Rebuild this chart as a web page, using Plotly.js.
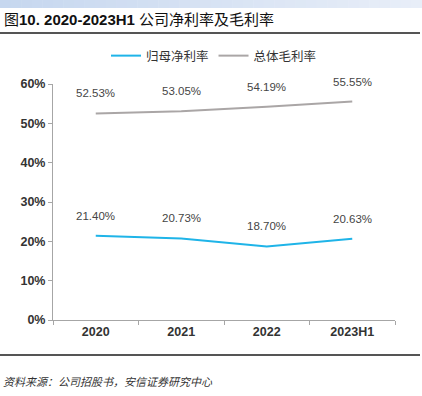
<!DOCTYPE html>
<html>
<head>
<meta charset="utf-8">
<script src="https://cdn.plot.ly/plotly-3.0.1.min.js"></script>
<style>html,body{margin:0;padding:0;background:#fff;}#chart{width:422px;height:396px;}</style>
</head>
<body>
<div id="chart"></div>
<script>
const categories = ['2020', '2021', '2022', '2023H1'];
const netMargin = [0.2140, 0.2073, 0.1870, 0.2063];
const grossMargin = [0.5253, 0.5305, 0.5419, 0.5555];
const yTickVals = [0, 0.1, 0.2, 0.3, 0.4, 0.5, 0.6];
const yTickText = ['0%', '10%', '20%', '30%', '40%', '50%', '60%'];
const seriesNames = ['归母净利率', '总体毛利率'];
const sourceText = '资料来源：公司招股书，安信证券研究中心';

const blue = '#1fb4e8';
const gray = '#aaa6a6';
const labelFont = {family: 'Liberation Sans, Arial, sans-serif', size: 11.5, color: '#454545'};

const traces = [
  {x: categories, y: netMargin, name: seriesNames[0], type: 'scatter', mode: 'lines',
   line: {color: blue, width: 2}, hoverinfo: 'skip'},
  {x: categories, y: grossMargin, name: seriesNames[1], type: 'scatter', mode: 'lines',
   line: {color: gray, width: 2}, hoverinfo: 'skip'}
];

const W = 422, H = 396, ml = 53, mr = 27, mt = 84, mb = 76;
const pw = W - ml - mr, ph = H - mt - mb;
function px2x(px) { return (px - ml) / pw; }
function py2y(py) { return (H - mb - py) / ph; }

const annotations = [];
[netMargin, grossMargin].forEach(arr => {
  arr.forEach((v, i) => {
    annotations.push({x: i, y: v, xref: 'x', yref: 'y',
      text: (v * 100).toFixed(2) + '%', showarrow: false, yshift: 20,
      font: labelFont});
  });
});
annotations.push({xref: 'paper', yref: 'paper', x: px2x(2), y: py2y(19), xanchor: 'left', yanchor: 'middle',
  text: '图<b>10. 2020-2023H1</b> 公司净利率及毛利率', showarrow: false,
  font: {family: 'Liberation Sans, Noto Sans CJK SC, sans-serif', size: 15, color: '#111'}});
annotations.push({xref: 'paper', yref: 'paper', x: px2x(1), y: py2y(381), xanchor: 'left', yanchor: 'middle',
  text: '<i>' + sourceText + '</i>', showarrow: false,
  font: {family: 'Noto Sans CJK SC, sans-serif', size: 11, color: '#333'}});

const shapes = [];
const nSeg = 40;
const c0 = [198, 215, 239], c1 = [232, 238, 248];
for (let i = 0; i < nSeg; i++) {
  const t = i / (nSeg - 1);
  const c = c0.map((v, k) => Math.round(v + (c1[k] - v) * t));
  shapes.push({type: 'rect', xref: 'paper', yref: 'paper',
    x0: px2x(i * W / nSeg), x1: px2x((i + 1) * W / nSeg + 0.5),
    y0: py2y(8), y1: py2y(0), fillcolor: 'rgb(' + c.join(',') + ')', line: {width: 0}, layer: 'below'});
}
shapes.push({type: 'line', xref: 'paper', yref: 'paper', x0: px2x(0), x1: px2x(420),
  y0: py2y(33), y1: py2y(33), line: {color: '#555', width: 2}});
shapes.push({type: 'line', xref: 'paper', yref: 'paper', x0: px2x(0), x1: px2x(420),
  y0: py2y(355), y1: py2y(355), line: {color: '#555', width: 2}});

const layout = {
  width: W, height: H,
  margin: {l: ml, r: mr, t: mt, b: mb, pad: 0},
  paper_bgcolor: '#fff', plot_bgcolor: '#fff',
  showlegend: true,
  legend: {orientation: 'h', x: px2x(214), xanchor: 'center', y: py2y(56), yanchor: 'middle',
    font: {family: 'Noto Sans CJK SC, sans-serif', size: 12.5, color: '#333'},
    itemwidth: 30, tracegroupgap: 0},
  xaxis: {type: 'category', range: [-0.5, 3.5], showline: true, linecolor: '#a6a6a6', linewidth: 1,
    ticks: 'outside', tickson: 'boundaries', ticklen: 4, tickcolor: '#a6a6a6', showgrid: false,
    zeroline: false, fixedrange: true,
    tickfont: {family: 'Liberation Sans, Arial, sans-serif', size: 12.5, color: '#333', weight: 'bold'}},
  yaxis: {range: [0, 0.6], tickvals: yTickVals, ticktext: yTickText, showline: true, linecolor: '#a6a6a6',
    linewidth: 1, ticks: 'outside', ticklen: 4, tickcolor: '#a6a6a6', showgrid: false, zeroline: false,
    fixedrange: true,
    tickfont: {family: 'Liberation Sans, Arial, sans-serif', size: 12.5, color: '#333', weight: 'bold'}},
  annotations: annotations,
  shapes: shapes
};

Plotly.newPlot('chart', traces, layout, {displayModeBar: false, staticPlot: true});
</script>
</body>
</html>
